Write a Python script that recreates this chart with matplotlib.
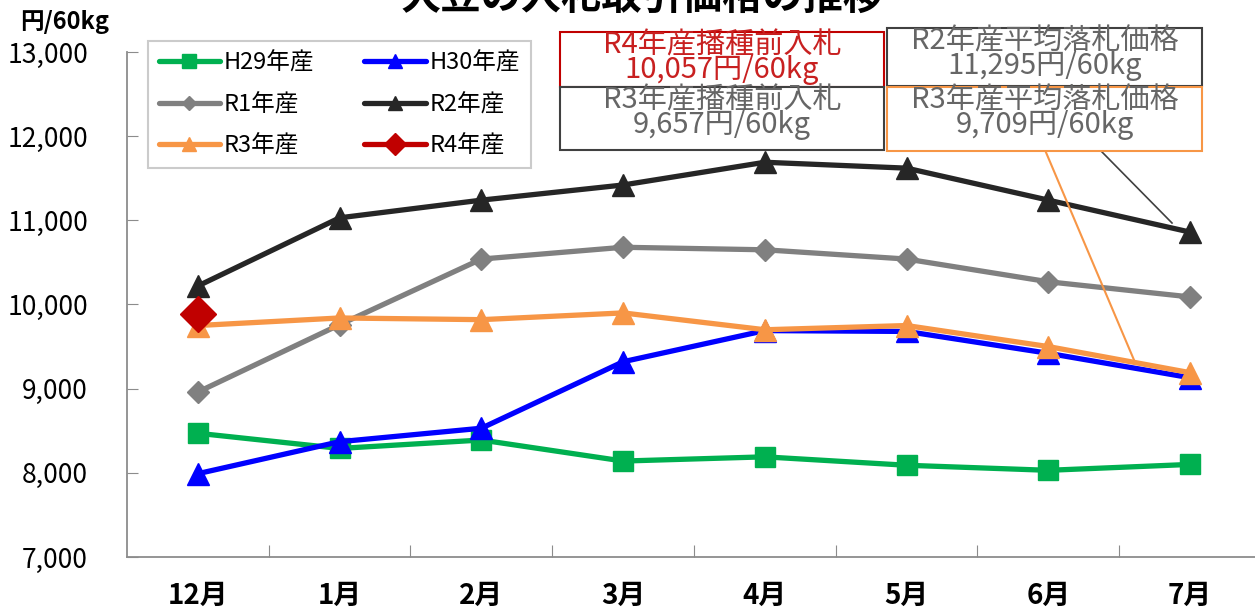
import matplotlib
matplotlib.use("Agg")
import matplotlib.pyplot as plt
from matplotlib.patches import Rectangle
from matplotlib.lines import Line2D

plt.rcParams['font.family'] = ['Noto Sans CJK JP', 'DejaVu Sans']

W, H = 1255, 609

months = ["12月", "1月", "2月", "3月", "4月", "5月", "6月", "7月"]
h29 = [8470, 8290, 8390, 8140, 8190, 8090, 8030, 8100]
h30 = [7990, 8370, 8530, 9320, 9690, 9680, 9420, 9130]
r1 = [8960, 9760, 10540, 10680, 10650, 10540, 10270, 10090]
r2 = [10220, 11030, 11240, 11420, 11690, 11620, 11240, 10860]
r3 = [9750, 9840, 9820, 9900, 9700, 9750, 9500, 9190]
r4 = [9890]

yticks = [7000, 8000, 9000, 10000, 11000, 12000, 13000]


def fx(px):
    return px / W


def fy(py):
    return 1 - py / H


fig = plt.figure(figsize=(W / 100, H / 100), dpi=100)
ax = fig.add_axes([fx(127), fy(557), (1261 - 127) / W, (557 - 52) / H])

x = list(range(len(months)))
styles = [
    (h29, "H29年産", "#00B050", "s", 15),
    (h30, "H30年産", "#0000FF", "^", 16),
    (r1, "R1年産", "#808080", "D", 11),
    (r2, "R2年産", "#262626", "^", 16),
    (r3, "R3年産", "#F79646", "^", 16),
    (r4, "R4年産", "#C00000", "D", 18),
]
lines = []
for z, (vals, label, color, marker, ms) in enumerate(styles):
    ln, = ax.plot(x[:len(vals)], vals, color=color, lw=3.8, marker=marker,
                  markersize=ms, label=label, zorder=3 + z,
                  solid_capstyle='round')
    lines.append(ln)

ax.set_xlim(-0.5, 7.5)
ax.set_ylim(7000, 13000)
ax.set_yticks(yticks)
ax.set_yticklabels([f"{v:,}" for v in yticks])
ax.tick_params(axis='y', direction='in', length=8, color='#8c8c8c', pad=28, labelsize=19)

# ticks on category borders, labels in the middle
ax.set_xticks([i + 0.5 for i in range(len(months) - 1)])
ax.set_xticklabels([])
ax.set_xticks(x, minor=True)
ax.set_xticklabels(months, minor=True, fontsize=20, fontweight='bold')
ax.tick_params(axis='x', which='major', direction='in', length=9, color='#8c8c8c')
ax.tick_params(axis='x', which='minor', length=0, pad=18)

for s in ['top', 'right']:
    ax.spines[s].set_visible(False)
for s in ['left', 'bottom']:
    ax.spines[s].set_color('#8c8c8c')
    ax.spines[s].set_linewidth(1.3)

order = [0, 2, 4, 1, 3, 5]
leg = fig.legend([lines[i] for i in order], [lines[i].get_label() for i in order],
                 ncol=2, loc='upper left', bbox_to_anchor=(fx(148), fy(41)),
                 borderaxespad=0, frameon=True, fancybox=False, edgecolor='#BFBFBF',
                 fontsize=17, handlelength=2.6, handletextpad=0.17, columnspacing=2.1,
                 labelspacing=0.78, borderpad=0.45, markerscale=0.65)
leg.get_frame().set_linewidth(1.5)

fig.text(fx(642), 1.005, "大豆の入札取引価格の推移", ha='center', va='center',
         fontsize=29, fontweight='bold')
fig.text(fx(20), fy(22), "円/60kg", ha='left', va='center', fontsize=17, fontweight='bold')

# callout leader lines (drawn under the boxes)
fig.add_artist(Line2D([fx(1037), fx(1172)], [fy(86), fy(223)], color='#404040', lw=1.2, zorder=1))
fig.add_artist(Line2D([fx(1045), fx(1134)], [fy(150), fy(360)], color='#F79646', lw=1.5, zorder=1))

boxes = [
    (560, 32, 884, 87, '#C00000', '#C82020', "R4年産播種前入札\n10,057円/60kg"),
    (560, 87, 884, 150, '#404040', '#666666', "R3年産播種前入札\n9,657円/60kg"),
    (887, 28, 1202, 86, '#404040', '#666666', "R2年産平均落札価格\n11,295円/60kg"),
    (887, 87, 1202, 151, '#F79646', '#666666', "R3年産平均落札価格\n9,709円/60kg"),
]
for x0, y0, x1, y1, ec, tc, txt in boxes:
    fig.add_artist(Rectangle((fx(x0), fy(y1)), fx(x1) - fx(x0), fy(y0) - fy(y1),
                             transform=fig.transFigure, facecolor='white',
                             edgecolor=ec, lw=1.5, zorder=2))
    fig.text(fx((x0 + x1) / 2), fy(y0 + 26), txt, ha='center', va='center',
             fontsize=21, color=tc, linespacing=0.78, zorder=3)

fig.savefig("out.png", dpi=100)
